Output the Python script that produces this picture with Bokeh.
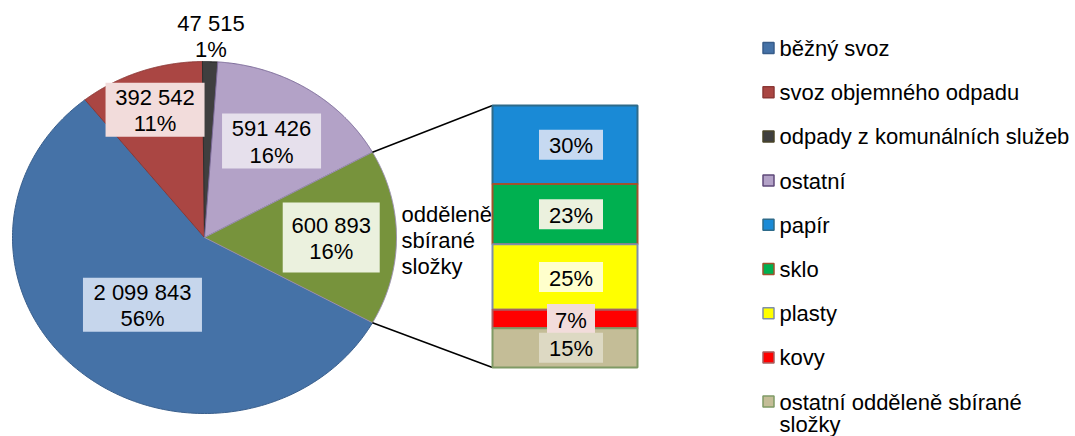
import numpy as np
from bokeh.plotting import figure
from bokeh.models import Range1d
from bokeh.core.properties import value
from bokeh.embed import file_html
from bokeh.resources import INLINE

# ---------------- data ----------------
pie_categories = ["běžný svoz", "svoz objemného odpadu", "odpady z komunálních služeb",
                  "ostatní", "odděleně sbírané složky"]
pie_values = [2099843, 392542, 47515, 591426, 600893]
split_index = 4  # slice broken out into the bar

bar_categories = ["papír", "sklo", "plasty", "kovy", "ostatní odděleně sbírané složky"]
bar_percent = [30, 23, 25, 7, 15]

# ---------------- styles ----------------
pie_colors = ["#4572A7", "#AA4643", "#3F3F3F", "#B3A2C7", "#77933C"]
pie_line_colors = ["#3A5F8C", "#8C3836", "#2E2E2E", "#7B6A98", "#9A8FB0"]
pie_label_fills = ["#C6D6EC", "#F2DCDB", None, "#E6E0EC", "#EBF1DE"]
pie_label_r = [0.5, 0.77, 1.15, 0.65, 0.66]
pie_label_box = [(119, 54), (99, 54), None, (99, 55), (97, 70)]

bar_colors = ["#1A8AD6", "#00B050", "#FFFF00", "#FF0000", "#C4BD97"]
bar_line_colors = ["#2E6B8A", "#A0522D", "#7F8FA9", "#A86060", "#7F9A65"]
bar_label_fills = ["#C6D9F1", "#EBF1DE", "#FFFFCC", "#F2DCDB", "#DDD9C3"]

FONT = value("Liberation Sans")
FS = value("22px")

W, H = 1075, 436
cx, cy, rx, ry = 204, 237, 192, 176
bx0, bx1, by0, by1 = 492, 637, 105, 367

p = figure(width=W, height=H, x_range=Range1d(0, W), y_range=Range1d(H, 0),
           output_backend="svg", toolbar_location=None, min_border=0,
           x_axis_location=None, y_axis_location=None)
p.grid.visible = False
p.outline_line_color = None
p.background_fill_color = "white"
p.border_fill_color = "white"

# ---------------- pie ----------------
vals = np.array(pie_values, dtype=float)
fr = vals / vals.sum()
n = len(vals)
order = [(split_index + k) % n for k in range(n)]
half = fr[split_index] * np.pi
starts, ends = [0.0] * n, [0.0] * n
a = half
for i in order:
    starts[i] = a
    a -= 2 * np.pi * fr[i]
    ends[i] = a

xs, ys = [], []
for i in range(n):
    t = np.linspace(starts[i], ends[i], 200)
    xs.append([cx] + list(cx + rx * np.cos(t)))
    ys.append([cy] + list(cy - ry * np.sin(t)))
p.patches(xs, ys, fill_color=pie_colors, line_color=pie_line_colors, line_width=1)

# connectors
p.segment(x0=[cx + rx * np.cos(half), cx + rx * np.cos(-half)],
          y0=[cy - ry * np.sin(half), cy - ry * np.sin(-half)],
          x1=[bx0, bx0], y1=[by0, by1], line_color="black", line_width=1.5)

# pie labels
for i in range(n):
    mid = (starts[i] + ends[i]) / 2
    lx = cx + pie_label_r[i] * rx * np.cos(mid)
    ly = cy - pie_label_r[i] * ry * np.sin(mid)
    txt = f"{pie_values[i]:,}".replace(",", " ") + "\n" + f"{round(fr[i] * 100)}%"
    if pie_label_box[i] is not None:
        bw, bh = pie_label_box[i]
        p.quad(left=lx - bw / 2, right=lx + bw / 2, top=ly - bh / 2, bottom=ly + bh / 2,
               fill_color=pie_label_fills[i], line_color=None)
    p.text(x=[lx], y=[ly + 1], text=[txt], text_font=FONT, text_font_size=FS,
           text_align="center", text_baseline="middle", text_line_height=1.05,
           text_color="black")

# split category name
p.text(x=[cx + rx + 5], y=[cy + 3], text=[pie_categories[split_index].replace(" ", "\n")],
       text_font=FONT, text_font_size=FS, text_align="left", text_baseline="middle",
       text_line_height=1.05, text_color="black")

# ---------------- bar ----------------
bp = np.array(bar_percent, dtype=float)
seg = bp / bp.sum() * (by1 - by0)
tops = by0 + np.concatenate([[0], np.cumsum(seg)[:-1]])
bots = tops + seg
p.quad(left=bx0, right=bx1, top=tops, bottom=bots, fill_color=bar_colors,
       line_color=bar_line_colors, line_width=2)
blx = (bx0 + bx1) / 2 + 6
for i in range(len(bp)):
    t = f"{bar_percent[i]}%"
    bw = 16 * len(t) + 16
    bh = 30
    my = (tops[i] + bots[i]) / 2
    p.quad(left=blx - bw / 2, right=blx + bw / 2, top=my - bh / 2, bottom=my + bh / 2,
           fill_color=bar_label_fills[i], line_color=None)
    p.text(x=[blx], y=[my + 1], text=[t], text_font=FONT, text_font_size=FS,
           text_align="center", text_baseline="middle", text_color="black")

# ---------------- legend ----------------
leg_labels = [c for k, c in enumerate(pie_categories) if k != split_index] + bar_categories
leg_fill = [c for k, c in enumerate(pie_colors) if k != split_index] + bar_colors
leg_line = ["#385D8A", "#8C3836", "#494429", "#5F497A"] + bar_line_colors
ly0, lstep = 47.5, 44.2
leg_y = [ly0 + k * lstep for k in range(len(leg_labels))]
p.rect(x=[768] * len(leg_y), y=leg_y, width=11, height=11, fill_color=leg_fill,
       line_color=leg_line, line_width=1.5)
wrapped = []
for lab in leg_labels:
    if len(lab) > 28:
        words = lab.split(" ")
        wrapped.append(" ".join(words[:-1]) + "\n" + words[-1])
    else:
        wrapped.append(lab)
p.text(x=[779] * len(leg_y), y=[yy - 12 for yy in leg_y], text=wrapped, text_font=FONT,
       text_font_size=FS, text_align="left", text_baseline="top", text_line_height=0.88,
       text_color="black")

open("out.html", "w").write(file_html(p, INLINE))
